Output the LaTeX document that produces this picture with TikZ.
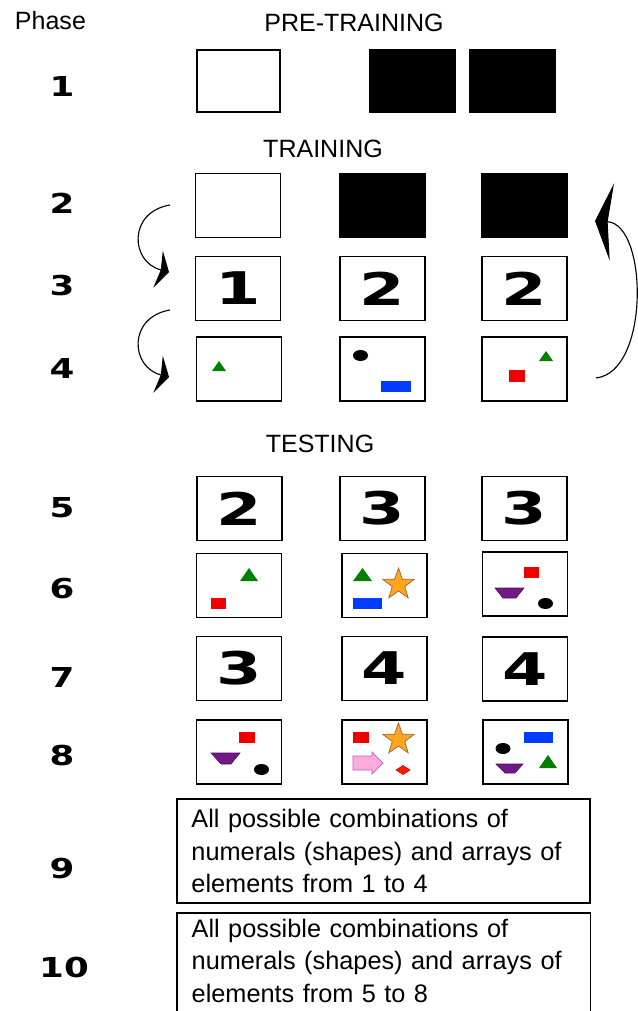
\documentclass[tikz,border=0pt]{standalone}
\usepackage{fontspec}
\setmainfont{Liberation Sans}
\newfontfamily\digitfont{DejaVu Sans}
\usepackage{graphicx}
\usetikzlibrary{arrows.meta}

\definecolor{shgreen}{RGB}{0,128,0}
\definecolor{shred}{RGB}{240,0,0}
\definecolor{shblue}{RGB}{0,60,255}
\definecolor{shorange}{RGB}{255,165,30}
\definecolor{shpurple}{RGB}{115,25,135}
\definecolor{shpink}{RGB}{255,170,220}

\newcommand{\bignum}[1]{\scalebox{1.45}[1]{#1}}
\newcommand{\rownum}[1]{\scalebox{1.3}[1]{#1}}

\begin{document}
\begin{tikzpicture}[
        x=0.025cm, y=-0.025cm,
        card/.style={draw, line width=1.1pt, minimum width=2.125cm, minimum height=1.6cm, inner sep=0pt,
            font=\digitfont\bfseries\fontsize{32}{32}\selectfont},
        dark/.style={card, fill=black},
        phase/.style={anchor=base, font=\digitfont\bfseries\fontsize{19.5}{20}\selectfont},
        heading/.style={anchor=base, font=\fontsize{17.8}{20}\selectfont},
        textbox/.style={align=left, text width=9.6cm, inner xsep=0.36cm, inner ysep=0.15cm,
            font=\fontsize{18}{23}\selectfont},
        turn/.style={line width=0.8pt},
        tri/.style={fill=shgreen},
        redbar/.style={fill=shred},
        bluebar/.style={fill=shblue},
        trap/.style={fill=shpurple, draw=shpurple!60!black, line width=0.4pt},
        starfill/.style={fill=shorange, draw=brown!80!black, line width=0.5pt},
        pinkarrow/.style={fill=shpink, draw=violet!60, line width=0.5pt},
        gem/.style={fill=red!80!orange, draw=red!80!black, line width=0.4pt}
    ]
        \useasboundingbox (0,0) rectangle (637,1011);

        \node[heading, anchor=base west] (phasehead) at (10,30) {Phase};
        \node[heading] (pretrain) at (354,32) {PRE-TRAINING};
        \node[heading] (train) at (323,157) {TRAINING};
        \node[heading] (test) at (320,452) {TESTING};

        \node[phase] (p1) at (62,97) {\rownum{1}};
        \node[phase] (p2) at (62,213) {\rownum{2}};
        \node[phase] (p3) at (62,295) {\rownum{3}};
        \node[phase] (p4) at (62,378) {\rownum{4}};
        \node[phase] (p5) at (62,517) {\rownum{5}};
        \node[phase] (p6) at (62,598) {\rownum{6}};
        \node[phase] (p7) at (62,687) {\rownum{7}};
        \node[phase] (p8) at (62,765) {\rownum{8}};
        \node[phase] (p9) at (62,878) {\rownum{9}};
        \node[phase] (p10) at (64,977) {\rownum{10}};

        \node[card, minimum width=2.075cm, minimum height=1.55cm] (pre1) at (238.5,81) {};
        \node[dark, minimum height=1.55cm] (pre2) at (412.5,81) {};
        \node[dark, minimum height=1.55cm] (pre3) at (512.5,81) {};

        \node[card] (tr2a) at (238,205.5) {};
        \node[dark] (tr2b) at (382.5,205.5) {};
        \node[dark] (tr2c) at (524.5,205.5) {};
        \node[card] (tr3a) at (238,288.5) {\bignum{1}};
        \node[card] (tr3b) at (382.5,288.5) {\bignum{2}};
        \node[card] (tr3c) at (524.5,288.5) {\bignum{2}};
        \node[card] (tr4a) at (239,369) {};
        \node[card] (tr4b) at (382.5,369) {};
        \node[card] (tr4c) at (524.5,369) {};

        \node[card] (te5a) at (239.5,508.5) {\bignum{2}};
        \node[card] (te5b) at (382.5,508.5) {\bignum{3}};
        \node[card] (te5c) at (524.5,508.5) {\bignum{3}};
        \node[card] (te6a) at (239,585.5) {};
        \node[card] (te6b) at (384.5,585.5) {};
        \node[card] (te6c) at (525,584) {};
        \node[card] (te7a) at (239,668.5) {\bignum{3}};
        \node[card] (te7b) at (384.5,668.5) {\bignum{4}};
        \node[card] (te7c) at (525,669) {\bignum{4}};
        \node[card] (te8a) at (239,752) {};
        \node[card] (te8b) at (384.5,752) {};
        \node[card] (te8c) at (525.5,752) {};

        \node[textbox, draw, line width=1.1pt, minimum height=2.6cm] (all14) at (383.5,851)
            {All possible combinations of\\numerals (shapes) and arrays of\\elements from 1 to 4};
        \node[textbox, anchor=north west] (all58) at (177,913)
            {All possible combinations of\\numerals (shapes) and arrays of\\elements from 5 to 8};
        \draw[line width=1.1pt] (all58.north west) ++(0,100) -- (all58.north west)
            -- (all58.north east) -- ++(0,100);

        % loops
        \coordinate (loopa) at (170,205);
        \coordinate (loopb) at (169,272);
        \coordinate (loopc) at (170,310);
        \coordinate (loopd) at (169,377);
        \coordinate (backs) at (596,378);
        \coordinate (backe) at (595,221);
        \draw[turn, -{Stealth[length=8pt, width=27pt, inset=2pt]}] (loopa) .. controls (128,212) and (130,262) .. (loopb);
        \draw[turn, -{Stealth[length=8pt, width=27pt, inset=2pt]}] (loopc) .. controls (128,317) and (130,367) .. (loopd);
        \draw[turn, -{Stealth[length=12pt, width=55pt, inset=3pt]}] (backs) .. controls (650,372) and (648,224) .. (backe);

        % row 4
        \fill[tri] (212,371) -- (226,371) -- (219,361) -- cycle;
        \fill (360.5,355.5) ellipse [x radius=7.5, y radius=5.5];
        \fill[bluebar] (381,381) rectangle (411,392);
        \fill[tri] (539,361) -- (553,361) -- (546,351) -- cycle;
        \fill[redbar] (509,370) rectangle (525,382);

        % row 6
        \fill[tri] (240,581) -- (258,581) -- (249,568) -- cycle;
        \fill[redbar] (211,598) rectangle (226,609);
        \fill[tri] (353,581) -- (372,581) -- (362.5,568) -- cycle;
        \filldraw[starfill, shift={(398.5,584.5)}] (-90:16.5)
            \foreach \k in {1,...,9} {-- ({-90+36*\k}:{ifthenelse(mod(\k,2)==0,16.5,6.6)})} -- cycle;
        \fill[bluebar] (353,598) rectangle (382,609);
        \fill[redbar] (524,567) rectangle (539,578);
        \filldraw[trap] (495,588) -- (524,588) -- (516,598) -- (503,598) -- cycle;
        \fill (545.5,603.5) ellipse [x radius=7.5, y radius=5.5];

        % row 8
        \fill[redbar] (239,732) rectangle (255,743);
        \filldraw[trap] (211,753) -- (240,753) -- (231,764) -- (221,764) -- cycle;
        \fill (261.5,769.5) ellipse [x radius=7.5, y radius=5.5];
        \fill[redbar] (353,732) rectangle (369,743);
        \filldraw[starfill, shift={(398.5,739.5)}] (-90:16.5)
            \foreach \k in {1,...,9} {-- ({-90+36*\k}:{ifthenelse(mod(\k,2)==0,16.5,6.6)})} -- cycle;
        \filldraw[pinkarrow] (353,756) -- (372,756) -- (372,752) -- (383,763) -- (372,774)
            -- (372,770) -- (353,770) -- cycle;
        \filldraw[gem] (396,770) -- (403,765.5) -- (410,770) -- (403,774.5) -- cycle;
        \fill (503,748.5) ellipse [x radius=7.5, y radius=5.5];
        \fill[bluebar] (524,732) rectangle (553,743);
        \filldraw[trap] (496,764) -- (523,764) -- (515,773) -- (505,773) -- cycle;
        \fill[tri] (539,768) -- (557,768) -- (548,755) -- cycle;
    \end{tikzpicture}
\end{document}
